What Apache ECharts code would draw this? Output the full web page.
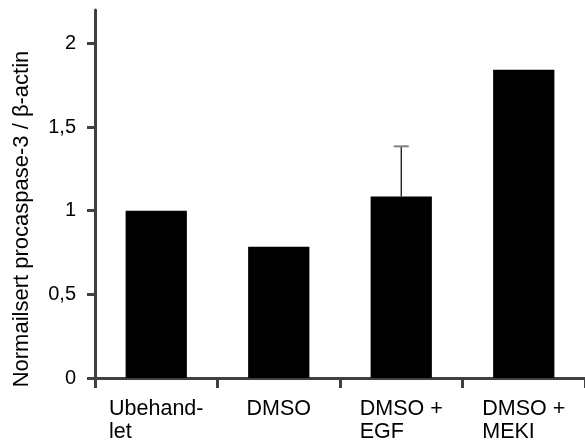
<!DOCTYPE html>
<html>
<head>
<meta charset="utf-8">
<script src="https://cdn.jsdelivr.net/npm/echarts@6/dist/echarts.min.js"></script>
<style>
  html, body { margin: 0; padding: 0; background: #fff; }
  #chart { width: 585px; height: 445px; }
</style>
</head>
<body>
<div id="chart"></div>
<script>
// Groups (each label line as its own entry)
const categories = [['Ubehand-', 'let'], ['DMSO'], ['DMSO +', 'EGF'], ['DMSO +', 'MEKI']];
// Normalised procaspase-3 / β-actin ratios
const values = [1.0, 0.785, 1.085, 1.843];
// Upper error (SD) per group; 0 = none drawn
const errors = [0, 0, 0.30, 0];
// Y tick values
const yTicks = [0, 0.5, 1, 1.5, 2];

const FONT = '"Liberation Sans", Arial, sans-serif';
const AXIS = '#404040';
const catNames = categories.map(c => c.join('\n'));

const chart = echarts.init(document.getElementById('chart'), null, { renderer: 'canvas' });

chart.setOption({
  animation: false,
  backgroundColor: '#fff',
  grid: { left: 95, right: -2, top: 10, bottom: 67 },
  xAxis: {
    type: 'category',
    data: catNames,
    boundaryGap: true,
    axisLine: { lineStyle: { color: AXIS, width: 3 } },
    axisTick: { show: true, length: 10, lineStyle: { color: AXIS, width: 3 }, alignWithLabel: false },
    axisLabel: {
      interval: 0,
      margin: 20,
      align: 'center',
      formatter: v => v.split('\n').map(s => '{a|' + s + '}').join('\n'),
      rich: {
        a: { align: 'left', fontFamily: FONT, fontSize: 21.5, lineHeight: 23, color: '#000' }
      }
    }
  },
  yAxis: {
    type: 'value',
    min: 0,
    max: 2.2,
    interval: 0.5,
    splitLine: { show: false },
    axisLine: { show: true, lineStyle: { color: AXIS, width: 3 } },
    axisTick: { show: true, length: 8, customValues: yTicks, lineStyle: { color: AXIS, width: 3 } },
    axisLabel: {
      customValues: yTicks,
      margin: 19,
      fontFamily: FONT,
      fontSize: 20,
      color: '#000',
      formatter: v => String(v).replace('.', ',')
    }
  },
  graphic: [{
    type: 'text',
    x: 22,
    y: 219,
    rotation: Math.PI / 2,
    style: {
      text: 'Normailsert procaspase-3 / β-actin',
      font: '22px ' + FONT,
      fill: '#000',
      align: 'center',
      verticalAlign: 'middle'
    }
  }],
  series: [{
    type: 'bar',
    data: values,
    barWidth: '50%',
    itemStyle: { color: '#000' },
    z: 2
  }, {
    type: 'custom',
    z: 3,
    data: values.map((v, i) => [i, v, errors[i]]),
    renderItem: (params, api) => {
      const err = api.value(2);
      if (!err) return null;
      const base = api.coord([api.value(0), api.value(1)]);
      const top = api.coord([api.value(0), api.value(1) + err]);
      const x = base[0];
      return {
        type: 'group',
        children: [{
          type: 'line',
          shape: { x1: x, y1: base[1], x2: x, y2: top[1] },
          style: { stroke: '#000', lineWidth: 1.2 }
        }, {
          type: 'line',
          shape: { x1: x - 7.5, y1: top[1], x2: x + 7.5, y2: top[1] },
          style: { stroke: '#808080', lineWidth: 2 }
        }]
      };
    }
  }]
});
</script>
</body>
</html>
